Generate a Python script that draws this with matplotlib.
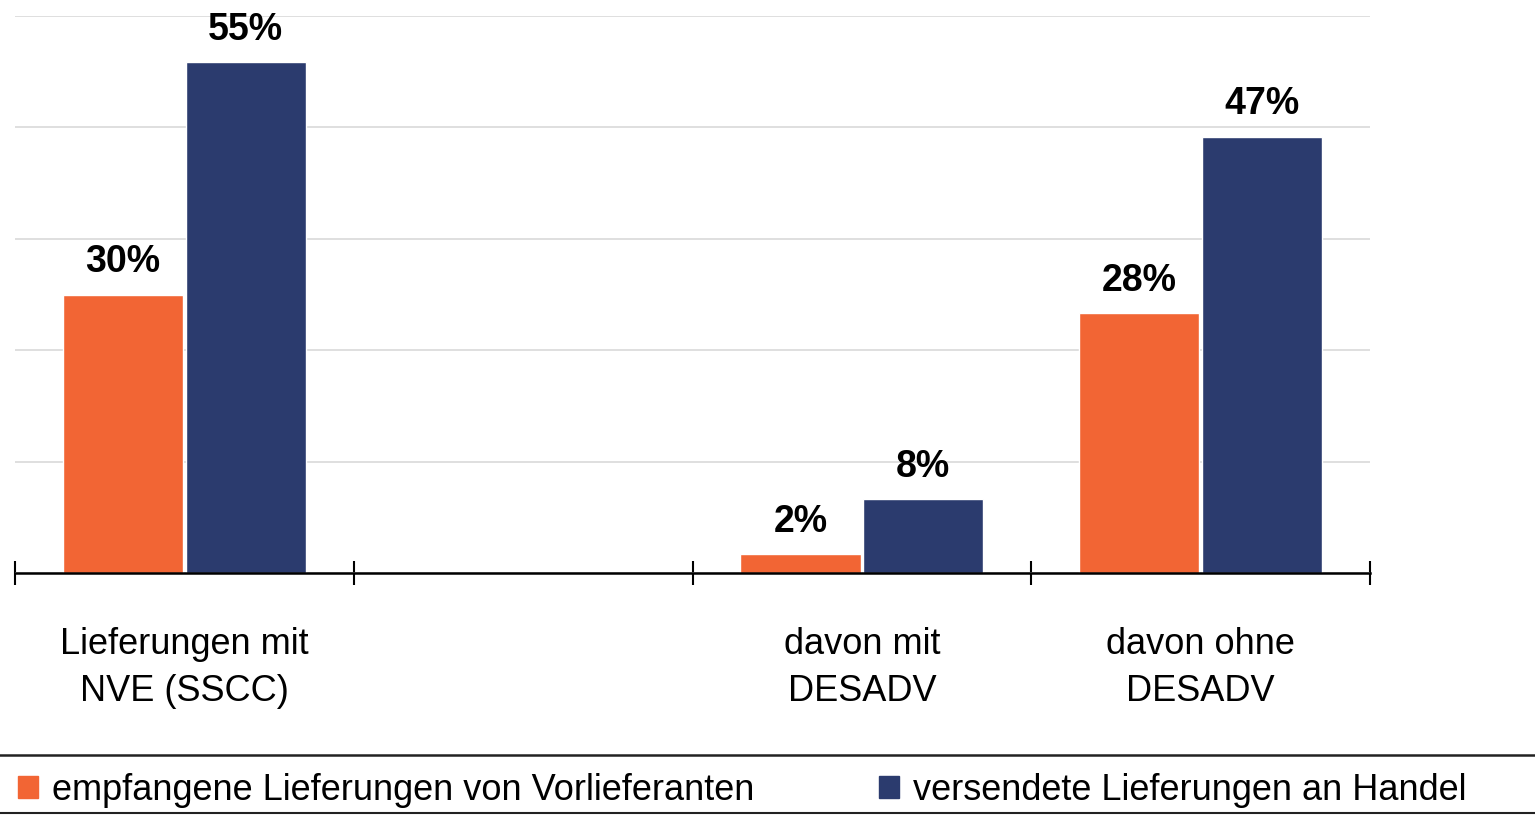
import matplotlib
matplotlib.use("Agg")
import matplotlib.pyplot as plt
from matplotlib.lines import Line2D
import numpy as np

plt.rcParams['font.family'] = ['Liberation Sans', 'DejaVu Sans']

categories = ["Lieferungen mit\nNVE (SSCC)", "", "davon mit\nDESADV", "davon ohne\nDESADV"]
empfangen = [30, None, 2, 28]
versendet = [55, None, 8, 47]
series_names = ["empfangene Lieferungen von Vorlieferanten", "versendete Lieferungen an Handel"]
colors = ["#F26534", "#2B3B6E"]

W, H = 1535, 815
fig = plt.figure(figsize=(W / 100, H / 100), dpi=100)
ax = fig.add_axes([15 / W, 1 - 573 / H, (1370 - 15) / W, (573 - 16) / H])

x = np.arange(len(categories))
bw = 0.355
off = 0.181
for vals, sign, col in [(empfangen, -1, colors[0]), (versendet, 1, colors[1])]:
    xs = [xi + sign * off for xi, v in zip(x, vals) if v is not None]
    vs = [v for v in vals if v is not None]
    bars = ax.bar(xs, vs, width=bw, color=col, edgecolor="white", linewidth=1, zorder=3)
    for b, v in zip(bars, vs):
        ax.annotate(f"{v}%", (b.get_x() + b.get_width() / 2, v), xytext=(0, 16),
                    textcoords="offset points", ha="center", va="baseline",
                    fontsize=27, fontweight="bold", color="black")

ax.set_xlim(-0.5, len(categories) - 0.5)
ax.set_ylim(0, 60)
ax.set_yticks(np.arange(0, 61, 12))
ax.yaxis.grid(True, color="#D9D9D9", linewidth=1.2, zorder=0)
ax.tick_params(axis="y", left=False, labelleft=False)
for s in ["left", "right", "top"]:
    ax.spines[s].set_visible(False)
ax.spines["bottom"].set_linewidth(1.8)
ax.spines["bottom"].set_zorder(4)

ax.set_xticks(x)
ax.set_xticklabels(categories, fontsize=26, linespacing=1.45)
ax.tick_params(axis="x", which="major", length=0, pad=39)
ax.set_xticks(np.arange(-0.5, len(categories), 1.0), minor=True)
ax.tick_params(axis="x", which="minor", direction="inout", length=17, width=1.5)

# legend borders
fig.add_artist(Line2D([0, 1], [1 - 755 / H, 1 - 755 / H], color="#222222", linewidth=1.8,
                      transform=fig.transFigure))
fig.add_artist(Line2D([0, 1], [1 - 813 / H, 1 - 813 / H], color="#222222", linewidth=1.5,
                      transform=fig.transFigure))

handles = [plt.Rectangle((0, 0), 1, 1, color=c) for c in colors]
fig.legend(handles, series_names, loc="center left", bbox_to_anchor=(18 / W, 1 - 790 / H),
           ncol=2, frameon=False, fontsize=26, handlelength=0.55, handleheight=0.55,
           handletextpad=0.39, columnspacing=3.45, borderaxespad=0, borderpad=0)

fig.savefig("out.png", dpi=100)
